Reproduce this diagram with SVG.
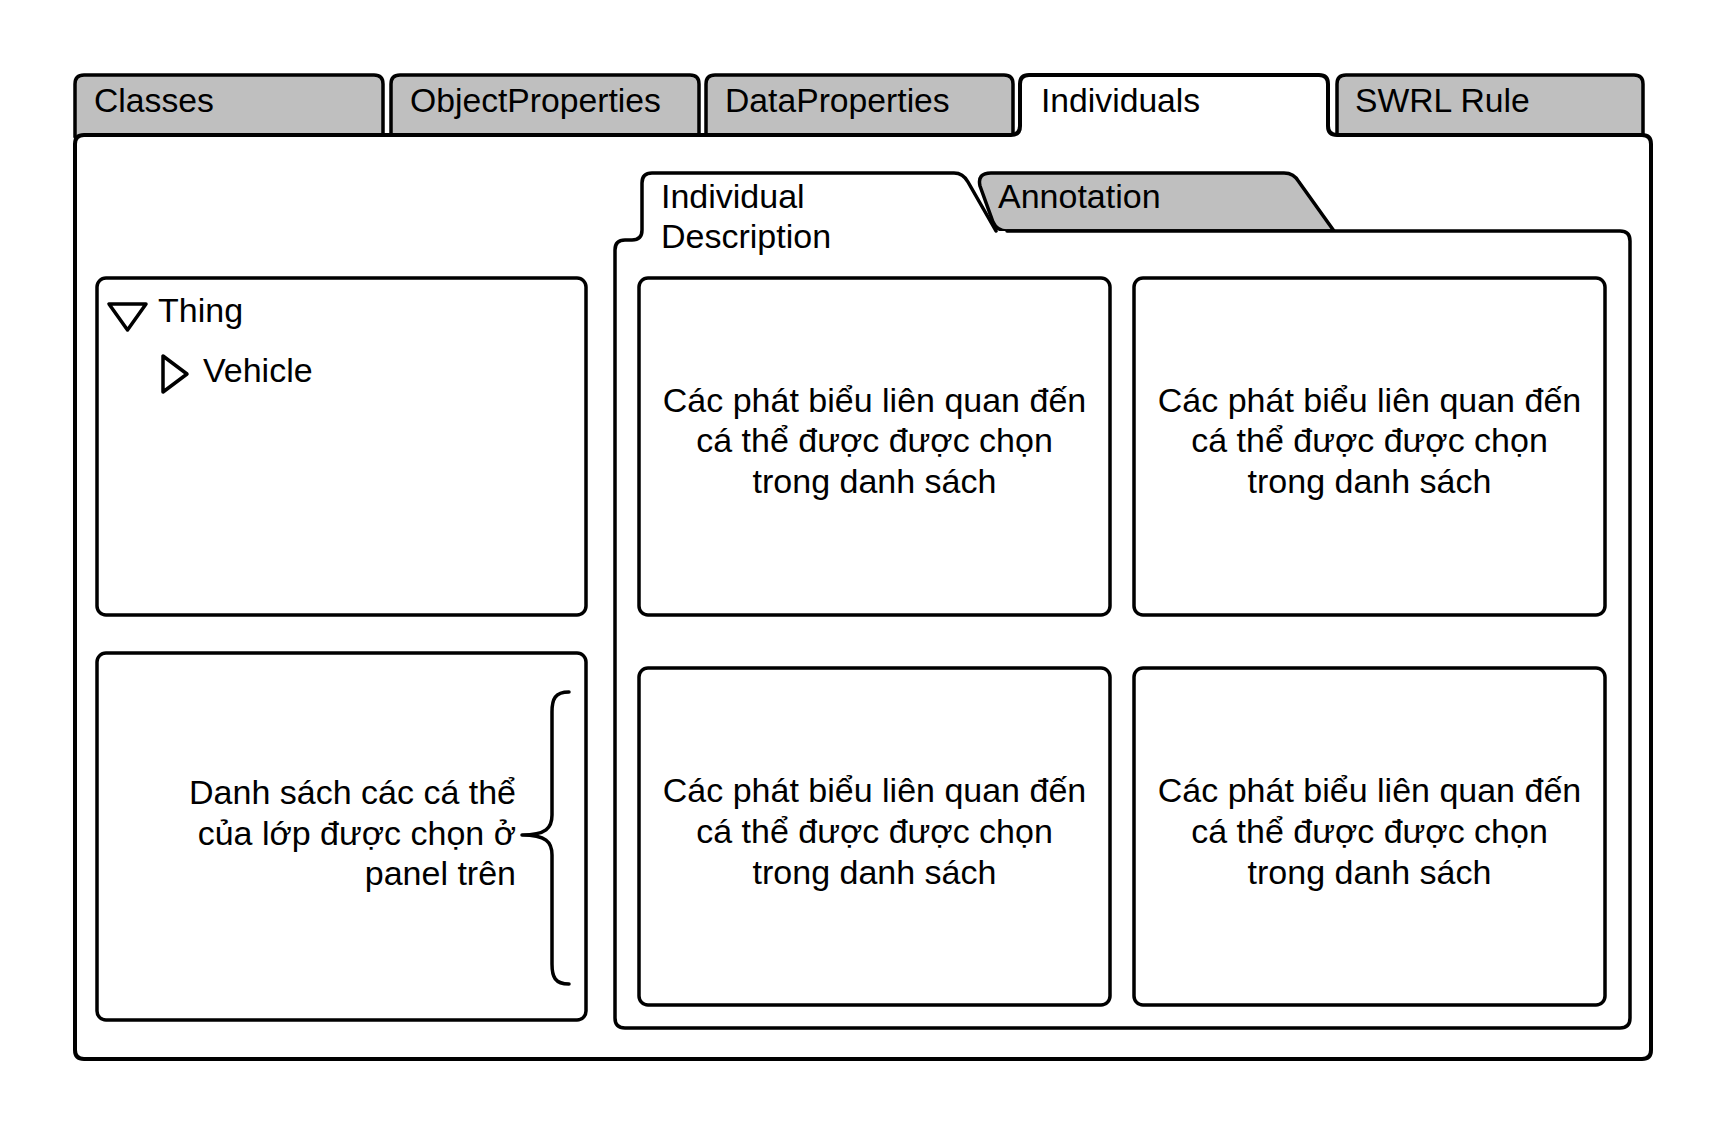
<svg xmlns="http://www.w3.org/2000/svg" width="1725" height="1133" viewBox="0 0 1725 1133">
<style>
.ln{stroke:#000;stroke-width:3.5;stroke-linejoin:round;stroke-linecap:round}
.g{fill:#bfbfbf}
.w{fill:#fff}
.t{font-family:"Liberation Sans",Arial,sans-serif;font-size:34px;fill:#000}
.tab{font-size:33.7px}
.b{font-family:"Liberation Sans",Arial,sans-serif;font-size:34px;fill:#000;text-anchor:middle}
</style>
<rect width="1725" height="1133" fill="#fff"/>
<g id="tab-classes"><path class="ln g" d="M75,137 L75,84 Q75,75 84,75 L374,75 Q383,75 383,84 L383,137"/><text class="t tab" x="94" y="112">Classes</text></g>
<g id="tab-objectproperties"><path class="ln g" d="M391,137 L391,84 Q391,75 400,75 L690,75 Q699,75 699,84 L699,137"/><text class="t tab" x="410" y="112">ObjectProperties</text></g>
<g id="tab-dataproperties"><path class="ln g" d="M706,137 L706,84 Q706,75 715,75 L1004,75 Q1013,75 1013,84 L1013,137"/><text class="t tab" x="725" y="112">DataProperties</text></g>
<g id="tab-swrl"><path class="ln g" d="M1337,137 L1337,84 Q1337,75 1346,75 L1634,75 Q1643,75 1643,84 L1643,137"/><text class="t tab" x="1355" y="112">SWRL Rule</text></g>
<g id="main-panel"><path class="ln w" style="stroke-width:4" d="M75,144 Q75,135 84,135 L1011,135 Q1020,135 1020,126 L1020,84 Q1020,75 1029,75 L1319,75 Q1328,75 1328,84 L1328,126 Q1328,135 1337,135 L1642,135 Q1651,135 1651,144 L1651,1050 Q1651,1059 1642,1059 L84,1059 Q75,1059 75,1050 Z"/><text class="t tab" x="1041" y="112">Individuals</text></g>
<g id="tab-annotation"><path class="ln g" d="M1007,231 Q997,231 993,222 L980,186 Q977,173 991,173 L1284,173 Q1294,173 1299,182 L1334,231 Z"/><text class="t" x="998" y="208">Annotation</text></g>
<g id="inner-panel"><path class="ln w" d="M1007,231 L1620,231 Q1630,231 1630,241 L1630,1018 Q1630,1028 1620,1028 L625,1028 Q615,1028 615,1018 L615,250 Q615,240 625,240 L632,240 Q642,240 642,230 L642,183 Q642,173 652,173 L954,173 Q963,173 968,182 L996,231"/><text class="t" x="661" y="208">Individual</text><text class="t" x="661" y="248">Description</text></g>
<g id="class-tree"><rect class="ln w" x="97" y="278" width="489" height="337" rx="9"/><path class="ln" fill="none" d="M109,304 L146,304 L127.5,330 Z"/><text class="t" x="158" y="322">Thing</text><path class="ln" fill="none" d="M163,356 L163,392 L187,374 Z"/><text class="t" x="203" y="382">Vehicle</text></g>
<g id="individual-list"><rect class="ln w" x="97" y="653" width="489" height="367" rx="9"/><text class="t" text-anchor="end" x="516" y="804">Danh sách các cá thể</text><text class="t" text-anchor="end" x="516" y="845">của lớp được chọn ở</text><text class="t" text-anchor="end" x="516" y="885">panel trên</text></g>
<g id="box-1"><rect class="ln w" x="639" y="278" width="471" height="337" rx="9"/><text class="b" x="874.5" y="412">Các phát biểu liên quan đến</text><text class="b" x="874.5" y="452">cá thể được được chọn</text><text class="b" x="874.5" y="493">trong danh sách</text></g>
<g id="box-2"><rect class="ln w" x="1134" y="278" width="471" height="337" rx="9"/><text class="b" x="1369.5" y="412">Các phát biểu liên quan đến</text><text class="b" x="1369.5" y="452">cá thể được được chọn</text><text class="b" x="1369.5" y="493">trong danh sách</text></g>
<g id="box-3"><rect class="ln w" x="639" y="668" width="471" height="337" rx="9"/><text class="b" x="874.5" y="802">Các phát biểu liên quan đến</text><text class="b" x="874.5" y="843">cá thể được được chọn</text><text class="b" x="874.5" y="884">trong danh sách</text></g>
<g id="box-4"><rect class="ln w" x="1134" y="668" width="471" height="337" rx="9"/><text class="b" x="1369.5" y="802">Các phát biểu liên quan đến</text><text class="b" x="1369.5" y="843">cá thể được được chọn</text><text class="b" x="1369.5" y="884">trong danh sách</text></g>
<g id="connectors"><path class="ln" fill="none" d="M569,692 C555,692 552,699 552,712 L552,815 C552,828 546,835 522,835 C546,835 552,842 552,855 L552,964 C552,977 555,984 569,984"/></g>
</svg>
